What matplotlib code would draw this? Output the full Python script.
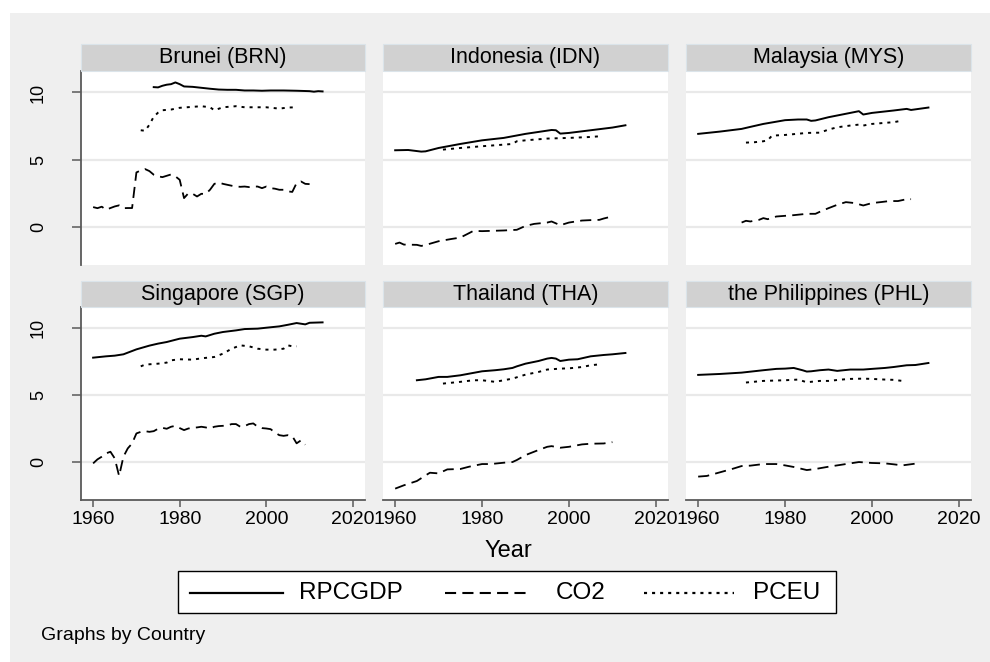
import matplotlib
matplotlib.use("Agg")
import matplotlib.pyplot as plt
from matplotlib.patches import Rectangle
from matplotlib.lines import Line2D

plt.rcParams['font.family'] = ['Liberation Sans', 'DejaVu Sans']
plt.rcParams['lines.scale_dashes'] = False

# ---------------- data ----------------
TITLES = ["Brunei (BRN)", "Indonesia (IDN)", "Malaysia (MYS)",
          "Singapore (SGP)", "Thailand (THA)", "the Philippines (PHL)"]
SERIES = ["RPCGDP", "CO2", "PCEU"]
X_TICKS = [1960, 1980, 2000, 2020]
Y_TICKS = [0, 5, 10]

BRN_GDP_YR = [1974, 1975, 1976, 1977, 1978, 1979, 1980, 1981, 1983, 1985, 1987, 1989,
              1991, 1993, 1995, 1997, 1999, 2001, 2004, 2007, 2010, 2011, 2012, 2013]
BRN_GDP = [10.40, 10.38, 10.50, 10.58, 10.62, 10.75, 10.62, 10.45, 10.42, 10.35, 10.28, 10.22,
           10.20, 10.20, 10.15, 10.15, 10.13, 10.15, 10.15, 10.13, 10.10, 10.06, 10.10, 10.08]
BRN_CO2_YR = list(range(1960, 2011))
BRN_CO2 = [1.47, 1.39, 1.50, 1.27, 1.40, 1.52, 1.60, 1.39, 1.40, 1.40,
           4.05, 4.20, 4.30, 4.15, 3.88, 3.76, 3.70, 3.80, 3.90, 3.76,
           3.50, 2.14, 2.50, 2.46, 2.26, 2.46, 2.45, 2.76, 3.20, 3.30,
           3.20, 3.13, 3.06, 3.00, 2.98, 3.00, 2.96, 3.00, 3.00, 2.88,
           3.00, 2.88, 2.84, 2.76, 2.76, 2.64, 2.60, 3.26, 3.38, 3.20, 3.18]
BRN_PCEU_YR = [1971, 1972, 1973, 1974, 1975, 1976, 1978, 1980, 1985, 1987, 1988, 1990,
               1993, 1995, 2000, 2003, 2005, 2007]
BRN_PCEU = [7.19, 7.15, 7.60, 8.20, 8.50, 8.68, 8.73, 8.86, 8.98, 8.90, 8.68, 8.90,
            8.98, 8.90, 8.90, 8.80, 8.88, 8.90]

IDN_GDP_YR = [1960, 1963, 1966, 1967, 1970, 1975, 1980, 1985, 1990, 1996, 1997, 1998,
              2000, 2005, 2010, 2013]
IDN_GDP = [5.70, 5.72, 5.60, 5.62, 5.87, 6.17, 6.44, 6.62, 6.92, 7.21, 7.19, 6.94,
           6.99, 7.19, 7.39, 7.56]
IDN_CO2_YR = [1960, 1961, 1962, 1965, 1966, 1967, 1970, 1973, 1975, 1977, 1978, 1980,
              1985, 1988, 1990, 1992, 1995, 1996, 1998, 2000, 2003, 2005, 2007, 2008, 2009]
IDN_CO2 = [-1.27, -1.17, -1.32, -1.34, -1.42, -1.35, -1.07, -0.90, -0.80, -0.47, -0.30, -0.32,
           -0.27, -0.22, 0.07, 0.22, 0.32, 0.40, 0.12, 0.32, 0.47, 0.50, 0.52, 0.62, 0.70]
IDN_PCEU_YR = [1971, 1975, 1980, 1985, 1987, 1988, 1990, 1995, 2000, 2005, 2007]
IDN_PCEU = [5.75, 5.87, 6.00, 6.12, 6.17, 6.37, 6.44, 6.57, 6.62, 6.69, 6.74]

MYS_GDP_YR = [1960, 1965, 1970, 1972, 1975, 1980, 1983, 1985, 1986, 1987, 1990, 1995,
              1997, 1998, 2000, 2005, 2008, 2009, 2013]
MYS_GDP = [6.92, 7.09, 7.29, 7.44, 7.66, 7.94, 7.99, 7.99, 7.89, 7.92, 8.16, 8.48,
           8.61, 8.36, 8.48, 8.66, 8.78, 8.70, 8.88]
MYS_CO2_YR = [1970, 1971, 1972, 1974, 1975, 1976, 1978, 1980, 1982, 1985, 1987, 1988,
              1990, 1992, 1994, 1996, 1998, 2000, 2002, 2004, 2006, 2008, 2009]
MYS_CO2 = [0.32, 0.45, 0.40, 0.52, 0.65, 0.57, 0.77, 0.82, 0.87, 0.97, 0.97, 1.12,
           1.39, 1.64, 1.84, 1.77, 1.59, 1.77, 1.84, 1.92, 1.92, 2.06, 2.06]
MYS_PCEU_YR = [1971, 1973, 1975, 1976, 1977, 1980, 1985, 1988, 1990, 1992, 1995, 1997,
               1998, 2000, 2003, 2005, 2007]
MYS_PCEU = [6.27, 6.30, 6.37, 6.44, 6.79, 6.84, 6.99, 7.01, 7.24, 7.41, 7.54, 7.61,
            7.54, 7.66, 7.74, 7.79, 7.91]

SGP_GDP_YR = [1960, 1963, 1965, 1967, 1970, 1973, 1975, 1977, 1980, 1983, 1985, 1986,
              1988, 1990, 1993, 1995, 1998, 2000, 2003, 2005, 2007, 2009, 2010, 2013]
SGP_GDP = [7.81, 7.91, 7.96, 8.06, 8.43, 8.71, 8.86, 8.98, 9.23, 9.35, 9.45, 9.40,
           9.60, 9.73, 9.85, 9.95, 9.98, 10.05, 10.15, 10.27, 10.40, 10.30, 10.42, 10.45]
SGP_CO2_YR = list(range(1960, 2010))
SGP_CO2 = [-0.10, 0.20, 0.40, 0.65, 0.77, 0.27, -1.04, 0.40, 1.02, 1.39,
           2.14, 2.26, 2.31, 2.26, 2.31, 2.49, 2.56, 2.49, 2.64, 2.71,
           2.54, 2.39, 2.51, 2.56, 2.59, 2.64, 2.59, 2.51, 2.64, 2.69,
           2.71, 2.74, 2.84, 2.84, 2.64, 2.69, 2.84, 2.89, 2.64, 2.54,
           2.51, 2.46, 2.21, 2.01, 1.96, 2.01, 1.94, 1.40, 1.62, 1.30]
SGP_PCEU_YR = [1971, 1972, 1975, 1977, 1978, 1980, 1983, 1985, 1988, 1990, 1992, 1994,
               1996, 1998, 2000, 2002, 2004, 2005, 2006, 2007]
SGP_PCEU = [7.16, 7.29, 7.36, 7.44, 7.61, 7.69, 7.66, 7.76, 7.86, 8.11, 8.48, 8.73,
            8.66, 8.48, 8.41, 8.41, 8.48, 8.73, 8.66, 8.66]

THA_GDP_YR = [1965, 1967, 1970, 1972, 1975, 1978, 1980, 1983, 1985, 1987, 1988, 1990,
              1993, 1995, 1996, 1997, 1998, 2000, 2002, 2005, 2008, 2010, 2013]
THA_GDP = [6.12, 6.19, 6.37, 6.37, 6.49, 6.67, 6.79, 6.87, 6.94, 7.04, 7.16, 7.36,
           7.56, 7.74, 7.79, 7.74, 7.56, 7.66, 7.69, 7.91, 8.01, 8.06, 8.16]
THA_CO2_YR = [1960, 1962, 1965, 1967, 1968, 1970, 1972, 1975, 1977, 1980, 1982, 1985,
              1987, 1988, 1990, 1993, 1995, 1996, 1998, 2000, 2003, 2005, 2008, 2010]
THA_CO2 = [-1.99, -1.74, -1.42, -1.00, -0.80, -0.85, -0.55, -0.52, -0.35, -0.15, -0.15, -0.05,
           0.00, 0.15, 0.52, 0.90, 1.14, 1.19, 1.07, 1.14, 1.32, 1.37, 1.39, 1.49]
THA_PCEU_YR = [1971, 1975, 1978, 1980, 1983, 1985, 1987, 1990, 1993, 1995, 1998, 2000,
               2003, 2005, 2007]
THA_PCEU = [5.87, 6.00, 6.12, 6.12, 6.00, 6.12, 6.24, 6.54, 6.74, 6.92, 6.99, 7.01,
            7.11, 7.24, 7.31]

PHL_GDP_YR = [1960, 1965, 1970, 1975, 1978, 1980, 1982, 1984, 1985, 1986, 1988, 1990,
              1992, 1995, 1998, 2000, 2003, 2005, 2008, 2010, 2013]
PHL_GDP = [6.52, 6.59, 6.69, 6.87, 6.97, 6.99, 7.04, 6.87, 6.77, 6.79, 6.87, 6.92,
           6.82, 6.92, 6.92, 6.97, 7.04, 7.11, 7.24, 7.26, 7.41]
PHL_CO2_YR = [1960, 1962, 1965, 1968, 1970, 1972, 1975, 1978, 1980, 1982, 1985, 1987,
              1990, 1993, 1995, 1997, 2000, 2003, 2005, 2007, 2010]
PHL_CO2 = [-1.09, -1.04, -0.77, -0.50, -0.30, -0.27, -0.15, -0.15, -0.25, -0.37, -0.60, -0.52,
           -0.35, -0.20, -0.10, 0.00, -0.07, -0.10, -0.17, -0.25, -0.12]
PHL_PCEU_YR = [1971, 1975, 1980, 1983, 1985, 1988, 1990, 1993, 1995, 1998, 2000, 2003,
               2005, 2007]
PHL_PCEU = [5.95, 6.07, 6.12, 6.17, 5.97, 6.07, 6.07, 6.17, 6.22, 6.24, 6.22, 6.17,
            6.15, 6.07]

PANEL_DATA = [
    [(BRN_GDP_YR, BRN_GDP), (BRN_CO2_YR, BRN_CO2), (BRN_PCEU_YR, BRN_PCEU)],
    [(IDN_GDP_YR, IDN_GDP), (IDN_CO2_YR, IDN_CO2), (IDN_PCEU_YR, IDN_PCEU)],
    [(MYS_GDP_YR, MYS_GDP), (MYS_CO2_YR, MYS_CO2), (MYS_PCEU_YR, MYS_PCEU)],
    [(SGP_GDP_YR, SGP_GDP), (SGP_CO2_YR, SGP_CO2), (SGP_PCEU_YR, SGP_PCEU)],
    [(THA_GDP_YR, THA_GDP), (THA_CO2_YR, THA_CO2), (THA_PCEU_YR, THA_PCEU)],
    [(PHL_GDP_YR, PHL_GDP), (PHL_CO2_YR, PHL_CO2), (PHL_PCEU_YR, PHL_PCEU)],
]

# ---------------- layout / style ----------------
W, H = 990, 662
STYLES = [dict(linestyle='-', lw=1.4),
          dict(linestyle=(0, (8.0, 4.5)), lw=1.3),
          dict(linestyle=(0, (2.2, 3.6)), lw=1.4)]
AX_COLOR = '#5a5a5a'

fig = plt.figure(figsize=(W / 100, H / 100), dpi=100, facecolor='white')


def fx(px):
    return px / W


def fy(py):
    return 1 - py / H


# gray graph region
fig.add_artist(Rectangle((fx(10), fy(662)), fx(980), 649 / H, transform=fig.transFigure,
                         facecolor='#efefef', edgecolor='none', zorder=0))

col_l = [81, 383, 686]
col_r = [365, 668, 971]
row_head = [44, 281]
row_top = [71, 307]
row_bot = [265, 500]

for i, title in enumerate(TITLES):
    r, c = divmod(i, 3)
    l, rr = col_l[c], col_r[c]
    t, b = row_top[r], row_bot[r]
    ax = fig.add_axes([fx(l), fy(b), fx(rr - l), (b - t) / H])
    ax.set_facecolor('white')
    ax.set_xlim(1957.2, 2022.8)
    ax.set_ylim(-2.84, 11.6)
    for y in Y_TICKS:
        ax.axhline(y, color='#e9e9e9', lw=1.6, zorder=1)
    for (xs, ys), st in zip(PANEL_DATA[i], STYLES):
        ax.plot(xs, ys, color='black', zorder=3, **st)
    for s in ['top', 'right']:
        ax.spines[s].set_visible(False)
    ax.spines['left'].set_visible(c == 0)
    ax.spines['bottom'].set_visible(r == 1)
    for s in ['left', 'bottom']:
        ax.spines[s].set_color(AX_COLOR)
        ax.spines[s].set_linewidth(1.3)
    ax.set_xticks(X_TICKS)
    ax.set_yticks(Y_TICKS)
    if r == 1:
        ax.tick_params(axis='x', length=5, width=1.1, color=AX_COLOR, pad=3,
                       labelsize=14)
        ax.set_xticklabels([str(v) for v in X_TICKS])
    else:
        ax.tick_params(axis='x', length=0, labelbottom=False)
    if c == 0:
        ax.tick_params(axis='y', length=6.5, width=1.1, color=AX_COLOR, pad=18,
                       labelsize=13)
        ax.set_yticklabels([str(v) for v in Y_TICKS], rotation=90, va='center')
    else:
        ax.tick_params(axis='y', length=0, labelleft=False)
    # strip header
    ht = row_head[r]
    fig.add_artist(Rectangle((fx(l), fy(t)), fx(rr - l), (t - ht) / H,
                             transform=fig.transFigure, facecolor='#d1d1d1',
                             edgecolor='#dbe4ea', lw=0.8, zorder=2))
    fig.text(fx((l + rr) / 2), fy((ht + t) / 2 + 0.5), title, ha='center',
             va='center', fontsize=15.5, color='black')

# axis title
fig.text(fx(508), fy(551), "Year", ha='center', va='center', fontsize=17)

# legend
fig.add_artist(Rectangle((fx(178), fy(613)), fx(658), 42 / H, transform=fig.transFigure,
                         facecolor='white', edgecolor='black', lw=1.0, zorder=2))
leg_lines = [(190, 283, 299), (445, 529, 556), (644, 734, 753)]
for (x0, x1, xt), name, st in zip(leg_lines, SERIES, STYLES):
    st2 = dict(st)
    st2['lw'] = st['lw'] + 0.2
    fig.add_artist(Line2D([fx(x0), fx(x1)], [fy(593), fy(593)], transform=fig.transFigure,
                          color='black', zorder=3, **st2))
    fig.text(fx(xt), fy(593), name, ha='left', va='center', fontsize=17.5, zorder=3)

fig.text(fx(41), fy(635), "Graphs by Country", ha='left', va='center', fontsize=14)

fig.savefig("out.png", dpi=100, facecolor='white')
